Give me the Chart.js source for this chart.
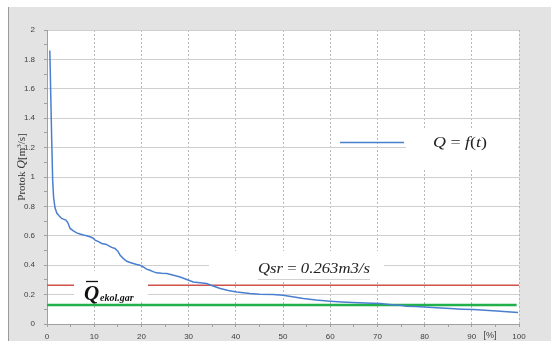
<!DOCTYPE html>
<html>
<head>
<meta charset="utf-8">
<script src="https://cdn.jsdelivr.net/npm/chart.js@4.4.0/dist/chart.umd.min.js"></script>
<style>
  html, body { margin: 0; padding: 0; background: #ffffff; }
  canvas { display: block; }
</style>
</head>
<body>
<canvas id="c" width="551" height="341"></canvas>
<script>
// Flow duration curve: share of time [%] vs. discharge Q [m3/s]
const timePercent = [0.6, 0.8, 1.0, 1.2, 1.4, 1.7, 2.1, 2.6, 3.1, 3.6, 4.0, 4.4, 4.9, 5.5, 6.3, 7.0, 7.7, 8.4, 9.1, 9.7,
  10.2, 10.9, 11.6, 12.6, 13.2, 13.7, 14.4, 15.0, 15.5, 16.2, 16.9, 17.6, 18.3, 19.0, 19.7, 20.4, 21.1, 21.8, 22.5, 23.2,
  24.3, 25.4, 26.8, 28.2, 29.6, 31.0, 32.4, 33.8, 35.2, 36.7, 38.4, 40.2, 41.6, 43.0, 45.0, 47.9, 50.0, 52.0, 54.3, 57.0,
  60.0, 62.5, 64.8, 67.5, 70.6, 72.5, 74.8, 76.2, 78.0, 80.0, 82.5, 85.4, 88.0, 90.3, 92.8, 95.3, 97.5, 99.8];
const flowValues = [1.86, 1.55, 1.25, 0.98, 0.86, 0.79, 0.753, 0.735, 0.718, 0.712, 0.707, 0.69, 0.650, 0.635, 0.620, 0.612, 0.605, 0.600, 0.593, 0.585,
  0.571, 0.560, 0.548, 0.541, 0.530, 0.521, 0.514, 0.495, 0.468, 0.445, 0.427, 0.418, 0.412, 0.405, 0.400, 0.388, 0.373, 0.366, 0.356, 0.348,
  0.345, 0.344, 0.332, 0.320, 0.303, 0.286, 0.280, 0.275, 0.258, 0.241, 0.228, 0.218, 0.212, 0.207, 0.203, 0.200, 0.196, 0.185, 0.173, 0.163,
  0.155, 0.150, 0.147, 0.143, 0.139, 0.133, 0.127, 0.121, 0.119, 0.116, 0.110, 0.105, 0.101, 0.098, 0.094, 0.089, 0.084, 0.078];

// Mean flow and ecologically guaranteed flow
const meanFlow = 0.263;
const ecoFlow = 0.13;
const xRange = [0, 100];
const yRange = [0, 2];

const sans = '"Liberation Sans", Arial, sans-serif';
const serif = '"Liberation Serif", "Times New Roman", serif';

const panelPlugin = {
  id: 'panel',
  beforeDraw(chart) {
    const { ctx, chartArea: a } = chart;
    ctx.save();
    ctx.fillStyle = '#ffffff';
    ctx.fillRect(0, 0, chart.width, chart.height);
    ctx.fillStyle = '#e3e3e3';
    ctx.fillRect(9, 7, chart.width - 9, chart.height - 7);
    ctx.strokeStyle = '#9a9a9a';
    ctx.lineWidth = 1;
    ctx.beginPath();
    ctx.moveTo(8.5, 7);
    ctx.lineTo(8.5, chart.height);
    ctx.stroke();
    ctx.fillStyle = '#ffffff';
    ctx.fillRect(a.left, a.top, a.right - a.left, a.bottom - a.top);
    ctx.restore();
  }
};

function measureRuns(ctx, runs) {
  let w = 0;
  for (const [t, f] of runs) { ctx.font = f; w += ctx.measureText(t).width; }
  return w;
}
// Draws text runs starting at x, stretched horizontally to the given width
function drawRuns(ctx, runs, x, y, width) {
  const natural = measureRuns(ctx, runs);
  const sx = width ? width / natural : 1;
  ctx.save();
  ctx.translate(x, y);
  ctx.scale(sx, 1);
  let cx = 0;
  for (const [t, f, dy] of runs) {
    ctx.font = f;
    ctx.fillText(t, cx, dy || 0);
    cx += ctx.measureText(t).width;
  }
  ctx.restore();
  return natural * sx;
}

const annotationPlugin = {
  id: 'annotations',
  afterDatasetsDraw(chart) {
    const { ctx } = chart;
    ctx.save();
    ctx.textBaseline = 'alphabetic';

    // Mean flow label box
    ctx.fillStyle = '#ffffff';
    ctx.fillRect(209, 251, 175, 30);
    ctx.fillStyle = '#222222';
    const qsr = [['Qsr', 'italic 15px ' + serif], [' = ', '15px ' + serif], ['0.263', 'italic 15px ' + serif], ['m3/s', 'italic 15px ' + serif]];
    drawRuns(ctx, qsr, 258, 273, 112);
    ctx.strokeStyle = '#d0d0d0';
    ctx.lineWidth = 1;
    ctx.beginPath();
    ctx.moveTo(258, 279.5);
    ctx.lineTo(370, 279.5);
    ctx.stroke();

    // Ecological flow label box
    ctx.fillStyle = '#ffffff';
    ctx.fillRect(74, 271, 74, 29);
    ctx.fillStyle = '#111111';
    ctx.font = 'bold italic 21px ' + serif;
    ctx.fillText('Q', 84, 300);
    ctx.font = 'bold italic 10px ' + serif;
    ctx.fillText('ekol.gar', 100, 301);
    ctx.strokeStyle = '#111111';
    ctx.lineWidth = 1.3;
    ctx.beginPath();
    ctx.moveTo(86, 281.5);
    ctx.lineTo(98, 281.5);
    ctx.stroke();

    // Legend
    ctx.fillStyle = '#ffffff';
    ctx.fillRect(406, 128, 112, 40);
    ctx.strokeStyle = '#4a7fcf';
    ctx.lineWidth = 1.5;
    ctx.beginPath();
    ctx.moveTo(340, 142.5);
    ctx.lineTo(404, 142.5);
    ctx.stroke();
    ctx.fillStyle = '#222222';
    drawRuns(ctx, [['Q', 'italic 15px ' + serif], [' = ', '15px ' + serif], ['f', 'italic 15px ' + serif], ['(', '15px ' + serif], ['t', 'italic 15px ' + serif], [')', '15px ' + serif]], 433, 147, 54);

    ctx.restore();
  },
  afterDraw(chart) {
    const { ctx } = chart;
    ctx.save();
    // Y axis title
    ctx.translate(21, 167);
    ctx.rotate(-Math.PI / 2);
    ctx.fillStyle = '#333333';
    ctx.textBaseline = 'alphabetic';
    const title = [['Protok ', '11px ' + serif], ['Q', 'italic 12px ' + serif], ['[m', '11px ' + serif], ['3', '7px ' + serif, -4], ['/s]', '11px ' + serif]];
    const w = measureRuns(ctx, title);
    drawRuns(ctx, title, -w / 2, 4);
    ctx.restore();

    // X unit label
    ctx.save();
    ctx.fillStyle = '#404040';
    ctx.font = '9px ' + sans;
    ctx.textAlign = 'center';
    ctx.textBaseline = 'middle';
    ctx.fillText('[%]', 490, 336);
    ctx.restore();
  }
};

new Chart(document.getElementById('c'), {
  type: 'line',
  data: {
    datasets: [
      {
        data: timePercent.map((p, i) => ({ x: p, y: flowValues[i] })),
        borderColor: '#4a7fcf', borderWidth: 1.5, pointRadius: 0, tension: 0, order: 1
      },
      {
        data: [{ x: xRange[0], y: meanFlow }, { x: xRange[1], y: meanFlow }],
        borderColor: '#d0524c', borderWidth: 1.5, pointRadius: 0, order: 3
      },
      {
        data: [{ x: xRange[0], y: ecoFlow }, { x: 99.5, y: ecoFlow }],
        borderColor: '#21b14a', borderWidth: 2.5, pointRadius: 0, order: 2
      }
    ]
  },
  options: {
    responsive: false,
    animation: false,
    devicePixelRatio: 1,
    layout: { padding: { left: 0, top: 30, right: 32, bottom: 0 } },
    plugins: { legend: { display: false }, tooltip: { enabled: false } },
    scales: {
      x: {
        type: 'linear', min: xRange[0], max: xRange[1],
        afterFit(s) { s.height = 17; },
        border: { color: '#a0a0a0', width: 1, dash: [2, 2] },
        grid: {
          color: c => (c.tick && c.tick.value % 10 === 0 && c.tick.value !== 0) ? '#b8b8b8' : 'rgba(0,0,0,0)',
          tickColor: '#a0a0a0', tickLength: 3, lineWidth: 1
        },
        ticks: {
          stepSize: 5, autoSkip: false, maxRotation: 0, padding: 5,
          color: '#404040', font: { family: sans, size: 8 },
          callback: v => (v % 10 === 0 ? String(v) : '')
        }
      },
      y: {
        min: yRange[0], max: yRange[1],
        afterFit(s) { s.width = 47; },
        border: { color: '#a0a0a0', width: 1 },
        grid: {
          color: c => (c.tick && Math.round(c.tick.value * 10) % 2 === 0 && c.tick.value > 0.01) ? '#cfcfcf' : 'rgba(0,0,0,0)',
          tickColor: '#a0a0a0', tickLength: 3, lineWidth: 1
        },
        ticks: {
          stepSize: 0.1, autoSkip: false, padding: 9,
          color: '#404040', font: { family: sans, size: 8 },
          callback: v => (Math.round(v * 10) % 2 === 0 ? String(+v.toFixed(1)) : '')
        }
      }
    }
  },
  plugins: [panelPlugin, annotationPlugin]
});
</script>
</body>
</html>
